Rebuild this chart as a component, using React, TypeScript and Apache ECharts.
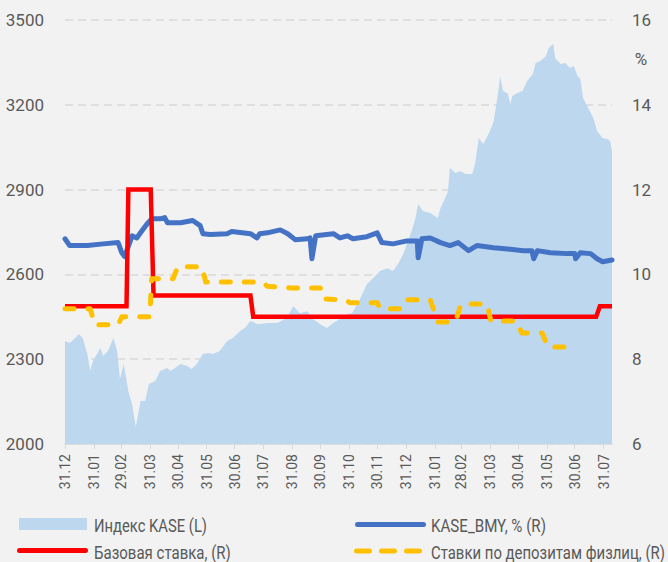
import React, { useEffect, useRef } from 'react';
import * as echarts from 'echarts';

const FONT = "Roboto, 'Liberation Sans', sans-serif";
const TEXT_COLOR = '#595959';

const MONTH_ENDS = ['2023-12-31', '2024-01-31', '2024-02-29', '2024-03-31', '2024-04-30', '2024-05-31', '2024-06-30', '2024-07-31', '2024-08-31', '2024-09-30', '2024-10-31', '2024-11-30', '2024-12-31', '2025-01-31', '2025-02-28', '2025-03-31', '2025-04-30', '2025-05-31', '2025-06-30', '2025-07-31'];
const X_MIN = '2023-12-31';
const X_MAX = '2025-08-09';

const KASE_DATES = ['2023-12-31', '2024-01-05', '2024-01-11', '2024-01-15', '2024-01-19', '2024-01-24', '2024-01-27', '2024-01-30', '2024-02-07', '2024-02-10', '2024-02-15', '2024-02-21', '2024-02-25', '2024-02-28', '2024-03-03', '2024-03-08', '2024-03-12', '2024-03-16', '2024-03-21', '2024-03-26', '2024-03-30', '2024-04-06', '2024-04-11', '2024-04-19', '2024-04-22', '2024-04-27', '2024-05-03', '2024-05-10', '2024-05-15', '2024-05-21', '2024-05-27', '2024-06-02', '2024-06-07', '2024-06-14', '2024-06-22', '2024-06-28', '2024-07-06', '2024-07-11', '2024-07-17', '2024-07-25', '2024-08-04', '2024-08-15', '2024-08-25', '2024-09-01', '2024-09-08', '2024-09-16', '2024-09-22', '2024-09-30', '2024-10-07', '2024-10-14', '2024-10-21', '2024-10-29', '2024-11-03', '2024-11-12', '2024-11-19', '2024-11-26', '2024-12-03', '2024-12-11', '2024-12-17', '2024-12-23', '2024-12-28', '2025-01-02', '2025-01-07', '2025-01-10', '2025-01-13', '2025-01-18', '2025-01-26', '2025-02-03', '2025-02-06', '2025-02-11', '2025-02-14', '2025-02-16', '2025-02-22', '2025-02-27', '2025-03-05', '2025-03-12', '2025-03-15', '2025-03-19', '2025-03-24', '2025-03-31', '2025-04-04', '2025-04-08', '2025-04-11', '2025-04-14', '2025-04-19', '2025-04-22', '2025-04-24', '2025-04-29', '2025-05-05', '2025-05-10', '2025-05-16', '2025-05-19', '2025-05-24', '2025-05-30', '2025-06-02', '2025-06-07', '2025-06-09', '2025-06-15', '2025-06-20', '2025-06-25', '2025-06-29', '2025-07-03', '2025-07-06', '2025-07-09', '2025-07-15', '2025-07-20', '2025-07-24', '2025-07-30', '2025-08-04', '2025-08-07', '2025-08-09'];
const KASE_VALUES = [2364, 2357, 2375, 2389, 2375, 2318, 2258, 2294, 2340, 2311, 2329, 2375, 2329, 2230, 2283, 2187, 2141, 2060, 2152, 2152, 2212, 2223, 2258, 2269, 2258, 2269, 2283, 2276, 2265, 2286, 2318, 2322, 2318, 2329, 2364, 2375, 2400, 2410, 2435, 2424, 2428, 2428, 2446, 2488, 2463, 2470, 2442, 2424, 2410, 2428, 2442, 2460, 2463, 2516, 2566, 2587, 2612, 2622, 2612, 2640, 2672, 2718, 2764, 2799, 2849, 2824, 2817, 2799, 2835, 2870, 2895, 2976, 2959, 2966, 2955, 2955, 2990, 3082, 3061, 3107, 3142, 3224, 3302, 3249, 3241, 3203, 3231, 3241, 3249, 3284, 3309, 3348, 3355, 3372, 3401, 3415, 3365, 3344, 3348, 3330, 3337, 3302, 3291, 3224, 3185, 3153, 3107, 3082, 3079, 3072, 3036];

const BMY_DATES = ['2023-12-31', '2024-01-05', '2024-01-24', '2024-02-10', '2024-02-26', '2024-03-01', '2024-03-04', '2024-03-12', '2024-03-17', '2024-03-21', '2024-03-28', '2024-04-02', '2024-04-11', '2024-04-16', '2024-04-19', '2024-05-03', '2024-05-16', '2024-05-24', '2024-05-27', '2024-06-04', '2024-06-22', '2024-06-27', '2024-07-17', '2024-07-24', '2024-07-27', '2024-08-04', '2024-08-18', '2024-08-26', '2024-09-03', '2024-09-16', '2024-09-19', '2024-09-21', '2024-09-25', '2024-10-14', '2024-10-21', '2024-10-29', '2024-11-04', '2024-11-19', '2024-11-30', '2024-12-05', '2024-12-17', '2025-01-01', '2025-01-12', '2025-01-13', '2025-01-17', '2025-01-26', '2025-02-06', '2025-02-16', '2025-02-25', '2025-03-08', '2025-03-17', '2025-04-04', '2025-04-19', '2025-05-06', '2025-05-15', '2025-05-17', '2025-05-21', '2025-06-04', '2025-06-22', '2025-06-30', '2025-07-01', '2025-07-06', '2025-07-17', '2025-07-24', '2025-07-30', '2025-08-09'];
const BMY_VALUES = [10.84, 10.68, 10.68, 10.72, 10.75, 10.51, 10.42, 10.91, 10.86, 10.98, 11.19, 11.31, 11.31, 11.34, 11.22, 11.22, 11.27, 11.15, 10.96, 10.94, 10.96, 11.01, 10.96, 10.86, 10.96, 10.98, 11.05, 10.96, 10.82, 10.84, 10.86, 10.37, 10.91, 10.96, 10.86, 10.91, 10.84, 10.89, 10.98, 10.75, 10.72, 10.79, 10.79, 10.39, 10.84, 10.86, 10.75, 10.68, 10.75, 10.56, 10.68, 10.63, 10.6, 10.56, 10.56, 10.37, 10.56, 10.51, 10.49, 10.49, 10.37, 10.51, 10.49, 10.37, 10.3, 10.34];

const BASE_DATES = ['2023-12-31', '2024-03-06', '2024-03-08', '2024-04-01', '2024-04-04', '2024-07-17', '2024-07-20', '2025-07-23', '2025-07-27', '2025-08-09'];
const BASE_VALUES = [9.25, 9.25, 12, 12, 9.5, 9.5, 9.0, 9.0, 9.25, 9.25];

const DEP_DATES = ['2023-12-31', '2024-01-27', '2024-02-01', '2024-02-26', '2024-03-01', '2024-03-31', '2024-04-02', '2024-04-25', '2024-04-30', '2024-05-26', '2024-05-30', '2024-07-30', '2024-08-04', '2024-08-29', '2024-09-30', '2024-10-03', '2024-10-27', '2024-11-01', '2024-11-30', '2024-12-03', '2024-12-28', '2025-01-02', '2025-01-26', '2025-02-03', '2025-02-22', '2025-02-28', '2025-03-28', '2025-04-01', '2025-04-29', '2025-05-04', '2025-05-26', '2025-06-01', '2025-06-25'];
const DEP_VALUES = [9.19, 9.19, 8.81, 8.81, 9.0, 9.0, 9.9, 9.9, 10.18, 10.18, 9.82, 9.82, 9.72, 9.68, 9.68, 9.42, 9.4, 9.33, 9.33, 9.19, 9.19, 9.4, 9.4, 8.88, 8.88, 9.3, 9.3, 8.9, 8.9, 8.62, 8.62, 8.29, 8.29];

const NAMES = ['Индекс KASE (L)', 'KASE_BMY, % (R)', 'Базовая ставка, (R)', 'Ставки по депозитам физлиц, (R)'];
const COLORS = ['#bdd7ee', '#4472c4', '#ff0000', '#ffc000'];

function toTs(s: string): number {
  const [y, m, d] = s.split('-').map(Number);
  return new Date(y, m - 1, d).getTime();
}
function zip(dates: string[], values: number[]) {
  return dates.map((d, i) => [toTs(d), values[i]]);
}
function fmt(v: number): string {
  const d = new Date(v);
  const dd = String(d.getDate()).padStart(2, '0');
  const mm = String(d.getMonth() + 1).padStart(2, '0');
  return dd + '.' + mm;
}

const LEGEND_FONT = `19px ${FONT}`;
let measureCtx: CanvasRenderingContext2D | null = null;
function textWidth(text: string, font: string): number {
  if (!measureCtx) measureCtx = document.createElement('canvas').getContext('2d');
  if (!measureCtx) return 100;
  measureCtx.font = font;
  return measureCtx.measureText(text).width;
}
function legendText(text: string, x: number, y: number, targetWidth: number) {
  const w = textWidth(text, LEGEND_FONT);
  return {
    type: 'text', x, y, scaleX: targetWidth / w, originX: 0, originY: 0,
    style: { text, fill: TEXT_COLOR, font: LEGEND_FONT, verticalAlign: 'middle', align: 'left' },
  };
}

export default function App() {
  const ref = useRef<HTMLDivElement>(null);
  useEffect(() => {
    const chart = echarts.init(ref.current!, null, { renderer: 'svg' });
    const ticks = MONTH_ENDS.map(toTs);
    const txt = { color: TEXT_COLOR, fontFamily: FONT };
    chart.setOption({
      animation: false,
      backgroundColor: '#f2f2f2',
      grid: { left: 65, right: 56, top: 20, bottom: 118, containLabel: false },
      xAxis: {
        type: 'value',
        min: toTs(X_MIN),
        max: toTs(X_MAX),
        axisLine: { show: true, lineStyle: { color: '#d9d9d9', width: 1.5 } },
        axisTick: { show: true, customValues: ticks, length: 5, lineStyle: { color: '#d9d9d9', width: 1 } },
        axisLabel: { ...txt, customValues: ticks, rotate: 90, fontSize: 14, margin: 10, formatter: (v: number) => fmt(v), hideOverlap: false },
        splitLine: { show: false },
      },
      yAxis: [
        {
          type: 'value', min: 2000, max: 3500, interval: 300, position: 'left',
          axisLine: { show: false }, axisTick: { show: false },
          axisLabel: { ...txt, fontSize: 17, margin: 21, formatter: (v: number) => String(v) },
          splitLine: { show: true, lineStyle: { color: '#d9d9d9', width: 1.5, type: [8, 5] } },
        },
        {
          type: 'value', min: 6, max: 16, interval: 2, position: 'right',
          axisLine: { show: false }, axisTick: { show: false },
          axisLabel: { ...txt, fontSize: 17, margin: 20, formatter: (v: number) => String(v) },
          splitLine: { show: false },
        },
      ],
      series: [
        {
          name: NAMES[0], type: 'line', yAxisIndex: 0, data: zip(KASE_DATES, KASE_VALUES),
          symbol: 'none', lineStyle: { width: 0 }, areaStyle: { color: COLORS[0], opacity: 1, origin: 'start' }, z: 1,
        },
        {
          name: NAMES[1], type: 'line', yAxisIndex: 1, data: zip(BMY_DATES, BMY_VALUES),
          symbol: 'none', lineStyle: { width: 5, color: COLORS[1], join: 'round', cap: 'round' }, z: 2,
        },
        {
          name: NAMES[2], type: 'line', yAxisIndex: 1, data: zip(BASE_DATES, BASE_VALUES),
          symbol: 'none', lineStyle: { width: 4.5, color: COLORS[2], join: 'miter' }, z: 3,
        },
        {
          name: NAMES[3], type: 'line', yAxisIndex: 1, data: zip(DEP_DATES, DEP_VALUES),
          symbol: 'none', lineStyle: { width: 5, color: COLORS[3], type: [9, 14], cap: 'round', join: 'round' }, z: 4,
        },
      ],
      graphic: [
        { type: 'text', x: 641, y: 59, style: { text: '%', fill: TEXT_COLOR, font: `17px ${FONT}`, align: 'center', verticalAlign: 'middle' } },
        { type: 'rect', shape: { x: 19, y: 518, width: 68, height: 12 }, style: { fill: COLORS[0] } },
        legendText(NAMES[0], 94, 525, 113),
        { type: 'line', shape: { x1: 19.5, y1: 550.5, x2: 85.5, y2: 550.5 }, style: { stroke: COLORS[2], lineWidth: 5, lineCap: 'round' } },
        legendText(NAMES[2], 94, 552, 137),
        { type: 'line', shape: { x1: 357.5, y1: 524.5, x2: 423.5, y2: 524.5 }, style: { stroke: COLORS[1], lineWidth: 5, lineCap: 'round' } },
        legendText(NAMES[1], 431, 525, 115),
        { type: 'line', shape: { x1: 356.5, y1: 551, x2: 419.5, y2: 551 }, style: { stroke: COLORS[3], lineWidth: 5, lineCap: 'round', lineDash: [13, 12] } },
        legendText(NAMES[3], 431, 552, 234),
      ],
    });
    return () => chart.dispose();
  }, []);
  return <div ref={ref} style={{ position: 'fixed', left: 0, top: 0, width: 668, height: 562, background: '#f2f2f2' }} />;
}
